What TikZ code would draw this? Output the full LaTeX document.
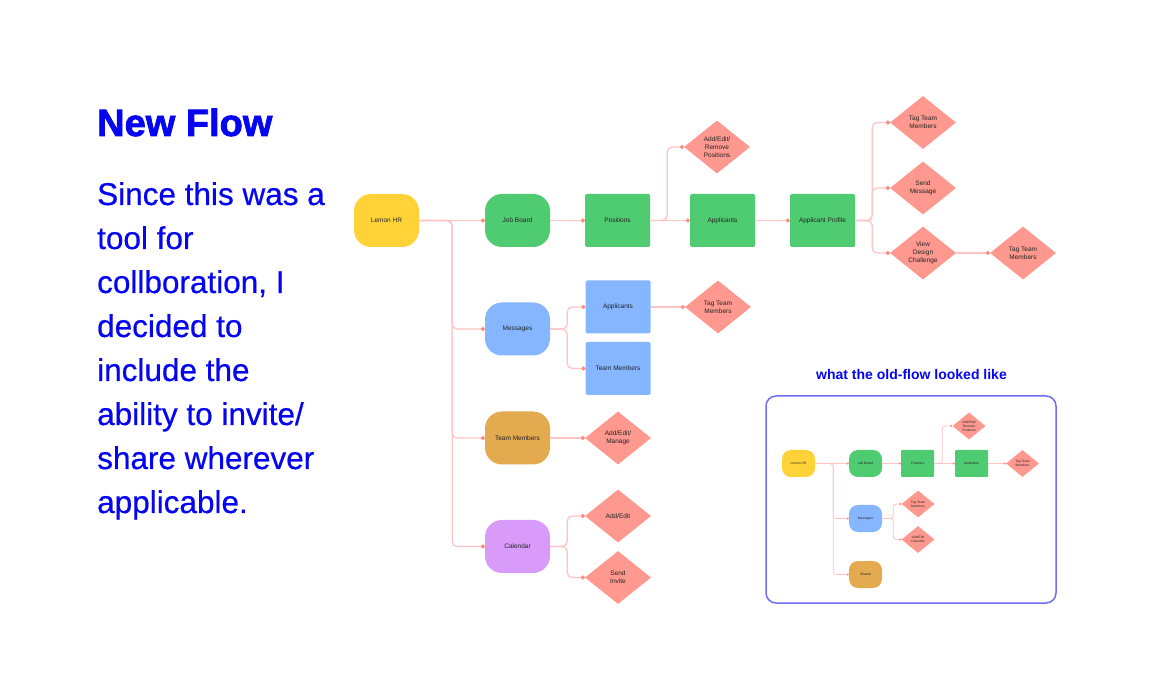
\documentclass[tikz,border=0pt]{standalone}
\usepackage{fontspec}
\setmainfont{Liberation Sans}
\newfontfamily\heavyfont{Liberation Sans}[BoldFeatures={FakeBold=2}]
\newfontfamily\bodyfont{Liberation Sans}[FakeBold=0.6]
\usetikzlibrary{shapes.geometric,arrows.meta}
\definecolor{ink}{RGB}{5,5,240}
\definecolor{lemon}{RGB}{255,211,56}
\definecolor{grn}{RGB}{79,203,113}
\definecolor{blu}{RGB}{133,182,255}
\definecolor{orng}{RGB}{227,170,80}
\definecolor{purp}{RGB}{217,155,250}
\definecolor{salmon}{RGB}{255,153,143}
\definecolor{conncol}{RGB}{255,196,196}
\definecolor{dotcol}{RGB}{250,140,130}
\definecolor{framecol}{RGB}{110,110,245}
\definecolor{nodetext}{RGB}{35,35,35}
\tikzset{
  nbase/.style={inner sep=0pt, text=nodetext, align=center, font=\fontsize{6.5}{8}\selectfont},
  pill/.style={nbase, rectangle, rounded corners=17pt, minimum width=65pt, minimum height=53pt},
  box/.style={nbase, rectangle, rounded corners=1.5pt, minimum width=65pt, minimum height=53pt},
  dia/.style={nbase, diamond, fill=salmon, minimum width=66pt, minimum height=53pt},
  conn/.style={draw=conncol, line width=1.3pt, rounded corners=5pt, -{Circle[length=4pt,width=4pt,color=dotcol]}},
  sbase/.style={inner sep=0pt, text=nodetext, align=center, font=\fontsize{3.3}{4}\selectfont},
  spill/.style={sbase, rectangle, rounded corners=9pt, minimum width=33pt, minimum height=27pt},
  sbox/.style={sbase, rectangle, rounded corners=1pt, minimum width=33pt, minimum height=27pt},
  sdia/.style={sbase, diamond, fill=salmon, minimum width=33pt, minimum height=27pt},
  sconn/.style={draw=conncol, line width=0.8pt, rounded corners=3pt, -{Circle[length=2pt,width=2pt,color=dotcol]}},
  body/.style={anchor=base west, inner sep=0pt, text=ink, font=\bodyfont\fontsize{31.5}{44}\selectfont},
}
\begin{document}
\begin{tikzpicture}[x=1pt,y=-1pt]
\fill[white] (0,0) rectangle (1152,700);
\useasboundingbox (0,0) rectangle (1152,700);

% left text
\node[anchor=base west, inner sep=0pt, text=ink, font=\heavyfont\fontsize{38}{44}\selectfont\bfseries] (title) at (97,136) {New Flow};
\node[body] (l1) at (97,205) {Since this was a};
\node[body] (l2) at (97,249) {tool for};
\node[body] (l3) at (97,293) {collboration, I};
\node[body] (l4) at (97,337) {decided to};
\node[body] (l5) at (97,381) {include the};
\node[body] (l6) at (97,425) {ability to invite/};
\node[body] (l7) at (97,469) {share wherever};
\node[body] (l8) at (97,513) {applicable.};

% main flow nodes
\node[pill, fill=lemon] (lemon) at (386.5,220.5) {Lemon HR};
\node[pill, fill=grn] (job) at (517.5,220.5) {Job Board};
\node[box, fill=grn] (pos) at (617.5,220.5) {Positions};
\node[box, fill=grn] (app) at (722.5,220.5) {Applicants};
\node[box, fill=grn] (prof) at (822.5,220.5) {Applicant Profile};
\node[dia] (aer) at (717,147) {Add/Edit/\\Remove\\Positions};
\node[dia] (tag1) at (923,122.5) {Tag Team\\Members};
\node[dia] (send) at (923,188) {Send\\Message};
\node[dia] (view) at (923,253) {View\\Design\\Challenge};
\node[dia] (tag2) at (1023,253) {Tag Team\\Members};
\node[pill, fill=blu] (msg) at (517.5,329) {Messages};
\node[box, fill=blu] (mapp) at (618,307) {Applicants};
\node[box, fill=blu] (mtm) at (618,368.5) {Team Members};
\node[dia] (tag3) at (718,307) {Tag Team\\Members};
\node[pill, fill=orng] (tm) at (517.5,438) {Team Members};
\node[dia] (aem) at (618,438) {Add/Edit/\\Manage};
\node[pill, fill=purp] (cal) at (517.5,546.5) {Calendar};
\node[dia] (ae) at (618,516) {Add/Edit};
\node[dia] (inv) at (618,577.5) {Send\\Invite};

% main connectors
\draw[conn] (lemon.east) -- (job.west);
\draw[conn] (lemon.east) -- ++(33,0) |- (msg.west);
\draw[conn] (lemon.east) -- ++(33,0) |- (tm.west);
\draw[conn] (lemon.east) -- ++(33,0) |- (cal.west);
\draw[conn] (job.east) -- (pos.west);
\draw[conn] (pos.east) -- (app.west);
\draw[conn] (pos.east) -- ++(17,0) |- (aer.west);
\draw[conn] (app.east) -- (prof.west);
\draw[conn] (prof.east) -- ++(17,0) |- (tag1.west);
\draw[conn] (prof.east) -- ++(17,0) |- (send.west);
\draw[conn] (prof.east) -- ++(17,0) |- (view.west);
\draw[conn] (view.east) -- (tag2.west);
\draw[conn] (msg.east) -- ++(17,0) |- (mapp.west);
\draw[conn] (msg.east) -- ++(17,0) |- (mtm.west);
\draw[conn] (mapp.east) -- (tag3.west);
\draw[conn] (tm.east) -- (aem.west);
\draw[conn] (cal.east) -- ++(17,0) |- (ae.west);
\draw[conn] (cal.east) -- ++(17,0) |- (inv.west);

% inset
\node[anchor=base, inner sep=0pt, text=ink, font=\fontsize{14}{16}\selectfont\bfseries] (oldtitle) at (911.5,380) {what the old-flow looked like};
\draw[framecol, line width=1.5pt, rounded corners=10pt] (766,396) rectangle (1056,603);

\node[spill, fill=lemon] (olemon) at (798.5,463.5) {Lemon HR};
\node[spill, fill=grn] (ojob) at (865.5,463.5) {Job Board};
\node[sbox, fill=grn] (opos) at (917.5,463.5) {Positions};
\node[sbox, fill=grn] (oapp) at (971.5,463.5) {Applicants};
\node[sdia] (oaer) at (969,426) {Add/Edit/\\Remove\\Positions};
\node[sdia] (otag1) at (1022.5,463.5) {Tag Team\\Members};
\node[spill, fill=blu] (omsg) at (865.5,518.5) {Messages};
\node[sdia] (otag2) at (918,504) {Tag Team\\Members};
\node[sdia] (oaec) at (918,539.5) {Add/Edit\\Calendar};
\node[spill, fill=orng] (oshared) at (865.5,574.5) {Shared};

\draw[sconn] (olemon.east) -- (ojob.west);
\draw[sconn] (olemon.east) -- ++(18,0) |- (omsg.west);
\draw[sconn] (olemon.east) -- ++(18,0) |- (oshared.west);
\draw[sconn] (ojob.east) -- (opos.west);
\draw[sconn] (opos.east) -- (oapp.west);
\draw[sconn] (opos.east) -- ++(8,0) |- (oaer.west);
\draw[sconn] (oapp.east) -- (otag1.west);
\draw[sconn] (omsg.east) -- ++(11,0) |- (otag2.west);
\draw[sconn] (omsg.east) -- ++(11,0) |- (oaec.west);
\end{tikzpicture}
\end{document}
